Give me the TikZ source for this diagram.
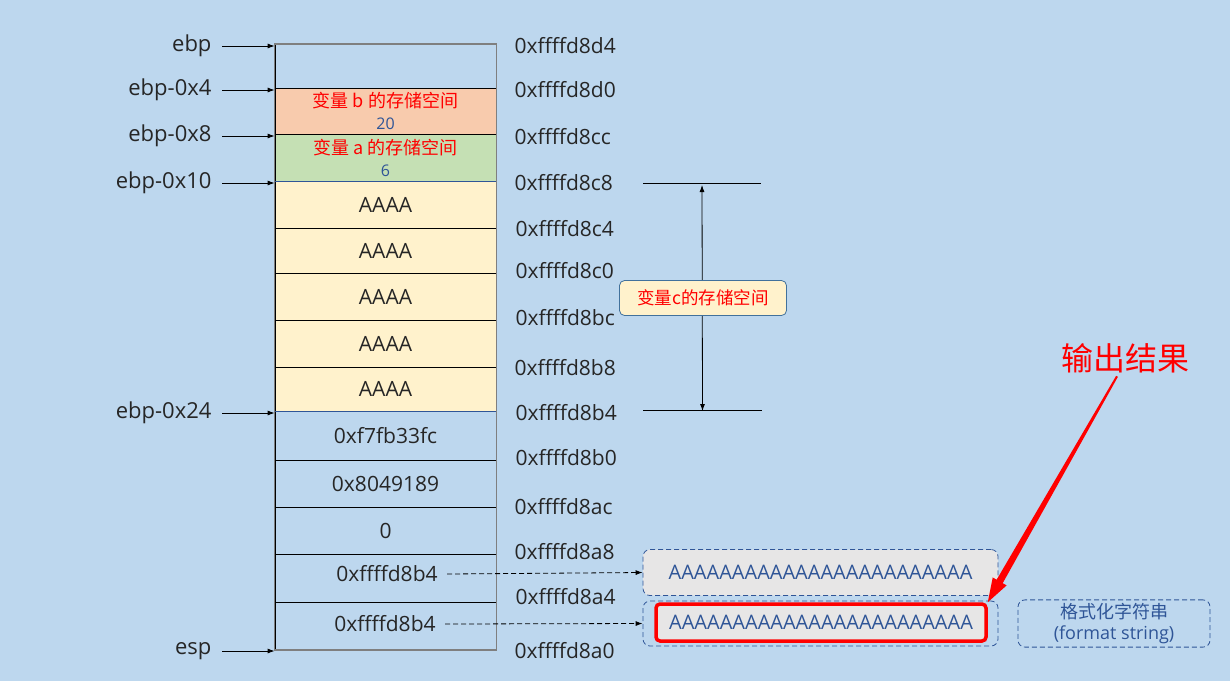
\documentclass[tikz,border=0pt]{standalone}
\usepackage{fontspec}
\setmainfont{Open Sans}
\newfontfamily\cjk{Noto Sans CJK SC}
\usetikzlibrary{arrows.meta,positioning,calc}
\definecolor{bgBlue}{HTML}{BDD7EE}
\definecolor{cellOrange}{HTML}{F8CBAD}
\definecolor{cellGreen}{HTML}{C5E0B4}
\definecolor{cellYellow}{HTML}{FFF2CC}
\definecolor{boxGray}{HTML}{E7E6E6}
\definecolor{lineNavy}{HTML}{2F5597}
\definecolor{edgeGray}{HTML}{7F7F7F}
\definecolor{txtDark}{HTML}{262626}
\definecolor{noteRed}{HTML}{FF0000}
\definecolor{noteEdge}{HTML}{41719C}

\begin{document}
\begin{tikzpicture}[
x=1pt, y=-1pt,
every node/.style={font=\fontsize{21}{24}\selectfont, text=txtDark},
cell/.style={draw=black, line width=0.8pt, minimum width=221pt, anchor=north, inner sep=0pt},
varcell/.style={cell, align=center, font=\fontsize{16}{22}\selectfont},
ptrlbl/.style={anchor=east, font=\fontsize{22}{24}\selectfont},
addr/.style={anchor=west},
ptr/.style={-{Latex[length=7pt,width=5pt]}, line width=0.8pt},
darr/.style={-{Latex[length=7pt,width=5pt]}, line width=0.8pt, dash pattern=on 5pt off 3pt},
span/.style={{Latex[length=7pt,width=5pt]}-{Latex[length=7pt,width=5pt]}, line width=0.8pt},
cbox/.style={draw=noteEdge, fill=cellYellow, rounded corners=5pt, line width=0.8pt, minimum width=167pt, minimum height=35pt, text=noteRed, font=\cjk\fontsize{17.5}{20}\selectfont},
strbox/.style={draw=lineNavy, dash pattern=on 5pt off 3pt, rounded corners=7pt, line width=0.8pt, minimum width=355pt, minimum height=46pt, text=lineNavy, font=\fontsize{20}{24}\selectfont},
outbox/.style={draw=noteRed, line width=3.5pt, rounded corners=4pt, fill=boxGray, minimum width=330pt, minimum height=37pt, text=lineNavy, font=\fontsize{20}{24}\selectfont}
]
\fill[bgBlue] (0,0) rectangle (1230,681);
\useasboundingbox (0,0) rectangle (1230,681);

% Stack cells (top = ebp)
\node[cell, minimum height=44pt] (r1) at (385.5,44) {};
\node[varcell, fill=cellOrange, minimum height=46pt] (r2) at (385.5,88) {{\cjk\fontsize{18}{22}\selectfont\color{noteRed}变量 b 的存储空间}\\{\color{lineNavy}20}};
\node[varcell, fill=cellGreen, minimum height=47pt] (r3) at (385.5,134) {{\cjk\fontsize{18}{22}\selectfont\color{noteRed}变量 a 的存储空间}\\{\color{lineNavy}6}};
\node[cell, fill=cellYellow, minimum height=47pt] (r4) at (385.5,181) {AAAA};
\node[cell, fill=cellYellow, minimum height=45pt] (r5) at (385.5,228) {AAAA};
\node[cell, fill=cellYellow, minimum height=47pt] (r6) at (385.5,273) {AAAA};
\node[cell, fill=cellYellow, minimum height=47pt] (r7) at (385.5,320) {AAAA};
\node[cell, fill=cellYellow, minimum height=44pt] (r8) at (385.5,367) {AAAA};
\node[cell, minimum height=49pt] (r9) at (385.5,411) {0xf7fb33fc};
\node[cell, minimum height=47pt] (r10) at (385.5,460) {0x8049189};
\node[cell, minimum height=47pt] (r11) at (385.5,507) {0};
\node[cell, minimum height=48pt] (r12) at (385.5,554) {};
\node[cell, minimum height=47pt] (r13) at (385.5,602) {};
\node (p1) at (387,574) {0xffffd8b4};
\node (p2) at (385,624) {0xffffd8b4};
\draw[lineNavy, line width=0.8pt] (r4.north west) -- (r4.north east);
\draw[lineNavy, line width=0.8pt] (r9.north west) -- (r9.north east);
\draw[edgeGray, line width=1.6pt] (r1.north west) rectangle (r13.south east);

% Register pointers
\node[ptrlbl] (l1) at (215,46) {ebp};
\node[ptrlbl] (l2) at (215,90) {ebp-0x4};
\node[ptrlbl] (l3) at (215,136) {ebp-0x8};
\node[ptrlbl] (l4) at (215,183) {ebp-0x10};
\node[ptrlbl] (l5) at (215,413) {ebp-0x24};
\node[ptrlbl] (l6) at (215,651) {esp};
\draw[ptr] ([xshift=7pt]l1.east) -- (l1.east -| r1.west);
\draw[ptr] ([xshift=7pt]l2.east) -- (l2.east -| r1.west);
\draw[ptr] ([xshift=7pt]l3.east) -- (l3.east -| r1.west);
\draw[ptr] ([xshift=7pt]l4.east) -- (l4.east -| r1.west);
\draw[ptr] ([xshift=7pt]l5.east) -- (l5.east -| r1.west);
\draw[ptr] ([xshift=7pt]l6.east) -- (l6.east -| r1.west);

% Addresses
\node[addr] (a1) at (511,46) {0xffffd8d4};
\node[addr] (a2) at (511,90) {0xffffd8d0};
\node[addr] (a3) at (511,137) {0xffffd8cc};
\node[addr] (a4) at (511,183) {0xffffd8c8};
\node[addr] (a5) at (512,229) {0xffffd8c4};
\node[addr] (a6) at (512,271) {0xffffd8c0};
\node[addr] (a7) at (512,318) {0xffffd8bc};
\node[addr] (a8) at (511,368) {0xffffd8b8};
\node[addr] (a9) at (512,413) {0xffffd8b4};
\node[addr] (a10) at (512,458) {0xffffd8b0};
\node[addr] (a11) at (511,507) {0xffffd8ac};
\node[addr] (a12) at (511,552) {0xffffd8a8};
\node[addr] (a13) at (512,597) {0xffffd8a4};
\node[addr] (a14) at (511,651) {0xffffd8a0};

% Extent of buffer c
\coordinate (ctopL) at (643,183); \coordinate (ctopR) at (761,183);
\coordinate (cbotL) at (643,410); \coordinate (cbotR) at (762,410);
\draw[line width=0.8pt] (ctopL) -- (ctopR);
\draw[line width=0.8pt] (cbotL) -- (cbotR);
\draw[span] ([yshift=-2pt]$(ctopL)!0.5!(ctopR)$) -- ([yshift=-1pt]$(cbotL)!0.5!(cbotR)$ -| 703,0);
\node[cbox] (cvar) at (703,298) {变量c的存储空间};

% Format string and output
\node[strbox, fill=boxGray] (s1) at (820.5,572.5) {AAAAAAAAAAAAAAAAAAAAAAAA};
\node[strbox, minimum height=45pt] (s2) at (820.5,623.5) {};
\node[outbox] (out) at (821,622.5) {AAAAAAAAAAAAAAAAAAAAAAAA};
\node[strbox, minimum width=192pt, minimum height=45pt, align=center, font=\fontsize{18}{21}\selectfont] (fmt) at (1114,623.5) {{\cjk 格式化字符串}\\(format string)};
\draw[darr] ([xshift=6pt]p1.east) -- (s1.west);
\draw[darr] ([xshift=6pt]p2.east) -- (s2.west);

% Output annotation (tapered red arrow)
\node[text=noteRed, font=\cjk\fontsize{32}{36}\selectfont] (res) at (1125,358) {输出结果};
\coordinate (rs) at ([xshift=-8pt]res.south);
\coordinate (re) at (out.north east);
\coordinate (rh) at ($(re)!24pt!(rs)$);
\fill[noteRed] ($(rs)!1pt!90:(re)$) -- ($(rh)!3.5pt!-90:(rs)$) -- ($(rh)!8pt!-90:(rs)$) -- (re)
  -- ($(rh)!8pt!90:(rs)$) -- ($(rh)!3.5pt!90:(rs)$) -- ($(rs)!1pt!-90:(re)$) -- cycle;

\end{tikzpicture}
\end{document}
